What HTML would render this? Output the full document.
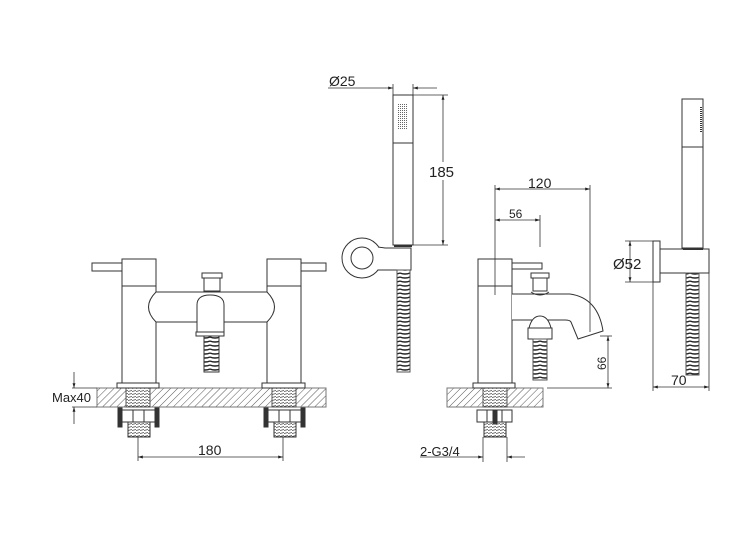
<!DOCTYPE html>
<html><head><meta charset="utf-8"><style>
html,body{margin:0;padding:0;background:#fff}
svg{display:block}
text{font-family:"Liberation Sans",sans-serif;fill:#222}
</style></head><body>
<svg width="744" height="556" viewBox="0 0 744 556" xmlns="http://www.w3.org/2000/svg">
<defs>
<pattern id="hat" width="5" height="5" patternUnits="userSpaceOnUse" patternTransform="rotate(45)">
<line x1="0" y1="0" x2="0" y2="5" stroke="#444" stroke-width="0.9"/>
</pattern>
<pattern id="dot" width="2" height="2" patternUnits="userSpaceOnUse">
<rect x="0" y="0" width="1" height="1" fill="#666"/>
</pattern>
<pattern id="thr" width="4" height="3" patternUnits="userSpaceOnUse">
<line x1="0" y1="1.5" x2="4" y2="0.5" stroke="#444" stroke-width="0.8"/>
</pattern>
<pattern id="hose" width="10" height="4" patternUnits="userSpaceOnUse">
<path d="M0 1 Q5 3 10 1" stroke="#222" stroke-width="1.4" fill="none"/>
</pattern>
<marker id="a" viewBox="0 0 10 10" refX="10" refY="5" markerWidth="8" markerHeight="6" orient="auto-start-reverse">
<path d="M0 2 L10 5 L0 8 z" fill="#222"/>
</marker>
</defs>
<g fill="none" stroke="#333" stroke-width="1">

<!-- LEFT: front view -->
<rect x="97" y="388" width="229" height="19" fill="url(#hat)" stroke="#777"/>
<rect x="126" y="388" width="24" height="19" fill="#fff" stroke="#555"/>
<rect x="126" y="388" width="24" height="19" fill="url(#thr)" stroke="#555"/>
<rect x="272" y="388" width="24" height="19" fill="#fff" stroke="#555"/>
<rect x="272" y="388" width="24" height="19" fill="url(#thr)" stroke="#555"/>
<rect x="92" y="263" width="30" height="8" fill="#fff"/>
<rect x="301" y="263" width="25" height="8" fill="#fff"/>
<rect x="122" y="259" width="34" height="124" fill="#fff"/>
<line x1="122" y1="286" x2="156" y2="286"/>
<rect x="267" y="259" width="34" height="124" fill="#fff"/>
<line x1="267" y1="286" x2="301" y2="286"/>
<path d="M156 292 H267 Q282 307 267 322 H156 Q141 307 156 292 Z" fill="#fff"/>
<rect x="117" y="383" width="42" height="5" fill="#fff"/>
<rect x="262" y="383" width="43" height="5" fill="#fff"/>
<rect x="202" y="273" width="20" height="5" fill="#fff"/>
<rect x="204" y="278" width="16" height="13" fill="#fff"/>
<path d="M197 335 V305 Q197 295 210 295 Q224 295 224 305 V335 Z" fill="#fff"/>
<rect x="196" y="332" width="28" height="4" fill="#fff"/>
<rect x="204" y="336" width="15" height="36" fill="url(#hose)"/>
<!-- nuts below -->
<rect x="122" y="410" width="33" height="12" fill="#fff"/>
<line x1="133" y1="410" x2="133" y2="422"/><line x1="144" y1="410" x2="144" y2="422"/>
<rect x="118" y="408" width="4" height="19" fill="#333"/>
<rect x="155" y="408" width="4" height="19" fill="#333"/>
<rect x="128" y="422" width="22" height="15" fill="url(#thr)"/>
<rect x="268" y="410" width="33" height="12" fill="#fff"/>
<line x1="279" y1="410" x2="279" y2="422"/><line x1="290" y1="410" x2="290" y2="422"/>
<rect x="264" y="408" width="4" height="19" fill="#333"/>
<rect x="301" y="408" width="4" height="19" fill="#333"/>
<rect x="274" y="422" width="22" height="15" fill="url(#thr)"/>
<!-- Max40 -->
<line x1="72" y1="388" x2="97" y2="388" stroke-width="0.8"/>
<line x1="72" y1="407" x2="97" y2="407" stroke-width="0.8"/>
<line x1="74" y1="372" x2="74" y2="388" marker-end="url(#a)" stroke-width="0.8"/>
<line x1="74" y1="424" x2="74" y2="407" marker-end="url(#a)" stroke-width="0.8"/>
<!-- 180 -->
<line x1="138" y1="437" x2="138" y2="461" stroke-width="0.8"/>
<line x1="283" y1="437" x2="283" y2="461" stroke-width="0.8"/>
<line x1="138" y1="457" x2="283" y2="457" marker-start="url(#a)" marker-end="url(#a)" stroke-width="0.8"/>

<!-- MIDDLE: handset -->
<rect x="393" y="95" width="20" height="150" fill="#fff"/>
<line x1="393" y1="143" x2="413" y2="143"/>
<rect x="398" y="103" width="10" height="27" fill="url(#dot)" stroke="none"/>
<line x1="394" y1="246" x2="412" y2="246" stroke-width="2"/>
<circle cx="362" cy="258" r="20" fill="#fff"/>
<circle cx="362" cy="258" r="11"/>
<path d="M378 247 L385 248 H411 V270 H383 L378 270" fill="#fff"/>
<rect x="397" y="270" width="13" height="102" fill="url(#hose)" stroke="#555"/>
<!-- Ø25 -->
<line x1="393" y1="84" x2="393" y2="95" stroke-width="0.8"/>
<line x1="413" y1="84" x2="413" y2="95" stroke-width="0.8"/>
<line x1="328" y1="88" x2="393" y2="88" marker-end="url(#a)" stroke-width="0.8"/>
<line x1="437" y1="88" x2="413" y2="88" marker-end="url(#a)" stroke-width="0.8"/>
<!-- 185 -->
<line x1="413" y1="95" x2="448" y2="95" stroke-width="0.8"/>
<line x1="413" y1="245" x2="448" y2="245" stroke-width="0.8"/>
<line x1="443" y1="162" x2="443" y2="95" marker-end="url(#a)" stroke-width="0.8"/>
<line x1="443" y1="180" x2="443" y2="245" marker-end="url(#a)" stroke-width="0.8"/>

<!-- RIGHT-MID: side view -->
<rect x="447" y="388" width="96" height="19" fill="url(#hat)" stroke="#777"/>
<rect x="483" y="388" width="24" height="19" fill="#fff" stroke="#555"/>
<rect x="483" y="388" width="24" height="19" fill="url(#thr)" stroke="#555"/>
<rect x="512" y="263" width="30" height="6" fill="#fff"/>
<rect x="478" y="259" width="34" height="124" fill="#fff"/>
<line x1="478" y1="286" x2="512" y2="286"/>
<rect x="473" y="383" width="42" height="5" fill="#fff"/>
<path d="M512 294 H570 Q598 298 603 331 L578 339 L571 322 Q570 320 565 320 H512" fill="#fff"/>
<rect x="531" y="273" width="18" height="5" fill="#fff"/>
<rect x="533" y="278" width="14" height="13" fill="#fff"/>
<path d="M531 292 Q540 298 549 292" />
<path d="M529 328 Q532 316 540 316 Q548 316 551 328 Z" fill="#fff"/>
<rect x="528" y="328" width="24" height="11" fill="#fff"/>
<rect x="533" y="339" width="14" height="41" fill="url(#hose)" stroke="#555"/>
<rect x="477" y="410" width="35" height="12" fill="#fff"/>
<line x1="487" y1="410" x2="487" y2="422"/><line x1="502" y1="410" x2="502" y2="422"/>
<rect x="493" y="410" width="4" height="14" fill="#333"/>
<rect x="484" y="422" width="22" height="15" fill="url(#thr)"/>
<!-- 120 / 56 -->
<line x1="495" y1="185" x2="495" y2="295" stroke-width="0.8"/>
<line x1="590" y1="185" x2="590" y2="332" stroke-width="0.8"/>
<line x1="495" y1="189" x2="590" y2="189" marker-start="url(#a)" marker-end="url(#a)" stroke-width="0.8"/>
<line x1="540" y1="215" x2="540" y2="247" stroke-width="0.8"/>
<line x1="495" y1="220" x2="540" y2="220" marker-start="url(#a)" marker-end="url(#a)" stroke-width="0.8"/>
<!-- 66 -->
<line x1="600" y1="336" x2="612" y2="336" stroke-width="0.8"/>
<line x1="547" y1="388" x2="612" y2="388" stroke-width="0.8"/>
<line x1="608" y1="336" x2="608" y2="388" marker-start="url(#a)" marker-end="url(#a)" stroke-width="0.8"/>
<!-- 2-G3/4 -->
<line x1="483" y1="437" x2="483" y2="462" stroke-width="0.8"/>
<line x1="507" y1="437" x2="507" y2="462" stroke-width="0.8"/>
<line x1="420" y1="457" x2="483" y2="457" marker-end="url(#a)" stroke-width="0.8"/>
<line x1="525" y1="457" x2="507" y2="457" marker-end="url(#a)" stroke-width="0.8"/>

<!-- FAR RIGHT: holder side -->
<rect x="682" y="99" width="21" height="149" fill="#fff"/>
<line x1="682" y1="147" x2="703" y2="147"/>
<line x1="701" y1="107" x2="701" y2="132" stroke-width="2" stroke-dasharray="1 1"/>
<rect x="653" y="241" width="7" height="41" fill="#fff"/>
<rect x="660" y="249" width="49" height="24" fill="#fff"/>
<line x1="683" y1="249" x2="703" y2="249" stroke-width="2"/>
<rect x="686" y="273" width="13" height="102" fill="url(#hose)" stroke="#555"/>
<!-- Ø52 -->
<line x1="625" y1="241" x2="653" y2="241" stroke-width="0.8"/>
<line x1="625" y1="282" x2="653" y2="282" stroke-width="0.8"/>
<line x1="630" y1="241" x2="630" y2="282" marker-start="url(#a)" marker-end="url(#a)" stroke-width="0.8"/>
<!-- 70 -->
<line x1="653" y1="282" x2="653" y2="391" stroke-width="0.8"/>
<line x1="709" y1="273" x2="709" y2="391" stroke-width="0.8"/>
<line x1="653" y1="387" x2="709" y2="387" marker-start="url(#a)" marker-end="url(#a)" stroke-width="0.8"/>
</g>
<g font-size="14">
<text x="52" y="402" font-size="13">Max40</text>
<text x="198" y="455">180</text>
<text x="329" y="86">Ø25</text>
<text x="429" y="177" font-size="15">185</text>
<text x="528" y="188">120</text>
<text x="509" y="218" font-size="12">56</text>
<text x="420" y="456" font-size="13">2-G3/4</text>
<text x="613" y="269" font-size="15">Ø52</text>
<text x="671" y="385">70</text>
<text transform="translate(606,370) rotate(-90)" font-size="12">66</text>
</g>
</svg>
</body></html>
